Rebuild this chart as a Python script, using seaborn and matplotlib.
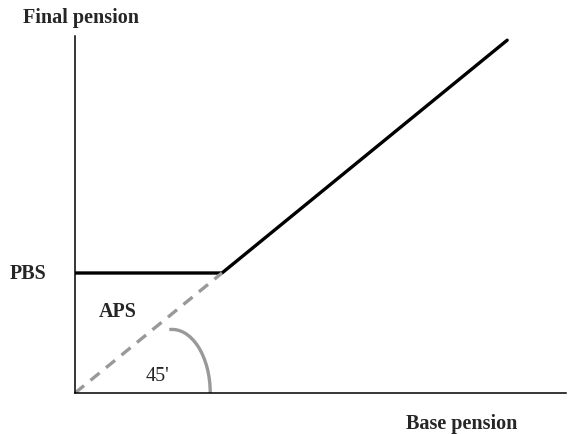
import numpy as np
import matplotlib
matplotlib.use("Agg")
import matplotlib.pyplot as plt
from matplotlib.patches import Arc
import pandas as pd
import seaborn as sns

# Kinked pension schedule: flat at PBS until base pension reaches it, then 45 degree line
base_pension = [0.0, 1.0, 2.94]
final_pension = [1.0, 1.0, 2.94]
# 45 degree reference (dashed) from origin to the kink
ref_x = [0.0, 1.0]
ref_y = [0.0, 1.0]

x_label = "Base pension"
y_label = "Final pension"
floor_label = "PBS"
area_label = "APS"
angle_label = "45'"

sns.set_style("white")
plt.rcParams['font.family'] = ['Liberation Serif', 'DejaVu Serif']

W, H = 570, 435
fig = plt.figure(figsize=(W / 100, H / 100), dpi=100)
ax = fig.add_axes([75 / W, (H - 394) / H, (566 - 75) / W, (394 - 37) / H])

df = pd.DataFrame({"base": base_pension, "final": final_pension})
sns.lineplot(data=df, x="base", y="final", ax=ax, color="black", lw=2.4,
             sort=False, estimator=None)
ref = pd.DataFrame({"x": ref_x, "y": ref_y})
sns.lineplot(data=ref, x="x", y="y", ax=ax, color="#999999", lw=2.4,
             linestyle=(0, (3.5, 2.5)), sort=False, estimator=None)

# angle arc
ax.add_patch(Arc((0.66, 0.0), 2 * 0.26, 2 * 0.53, theta1=0, theta2=92,
                 color="#999999", lw=2.4))

ax.set_xlim(0, (566 - 75) / 147)
ax.set_ylim(0, (394 - 37) / 120)
ax.set_xticks([])
ax.set_yticks([])
ax.set_xlabel("")
ax.set_ylabel("")
for s in ["top", "right"]:
    ax.spines[s].set_visible(False)
for s in ["left", "bottom"]:
    ax.spines[s].set_color("black")
    ax.spines[s].set_linewidth(1.1)

fs = 14.5
fig.text(23 / W, 1 - 18 / H, y_label, fontsize=fs, fontweight="bold", va="center", ha="left")
fig.text(517 / W, 1 - 424 / H, x_label, fontsize=fs, fontweight="bold", va="center", ha="right")
fig.text(10 / W, 1 - 274 / H, floor_label, fontsize=fs, fontweight="bold", va="center", ha="left")
fig.text(99 / W, 1 - 312 / H, area_label, fontsize=fs, fontweight="bold", va="center", ha="left")
fig.text(146 / W, 1 - 377 / H, angle_label, fontsize=fs, va="center", ha="left")

fig.savefig("out.png", dpi=100)
